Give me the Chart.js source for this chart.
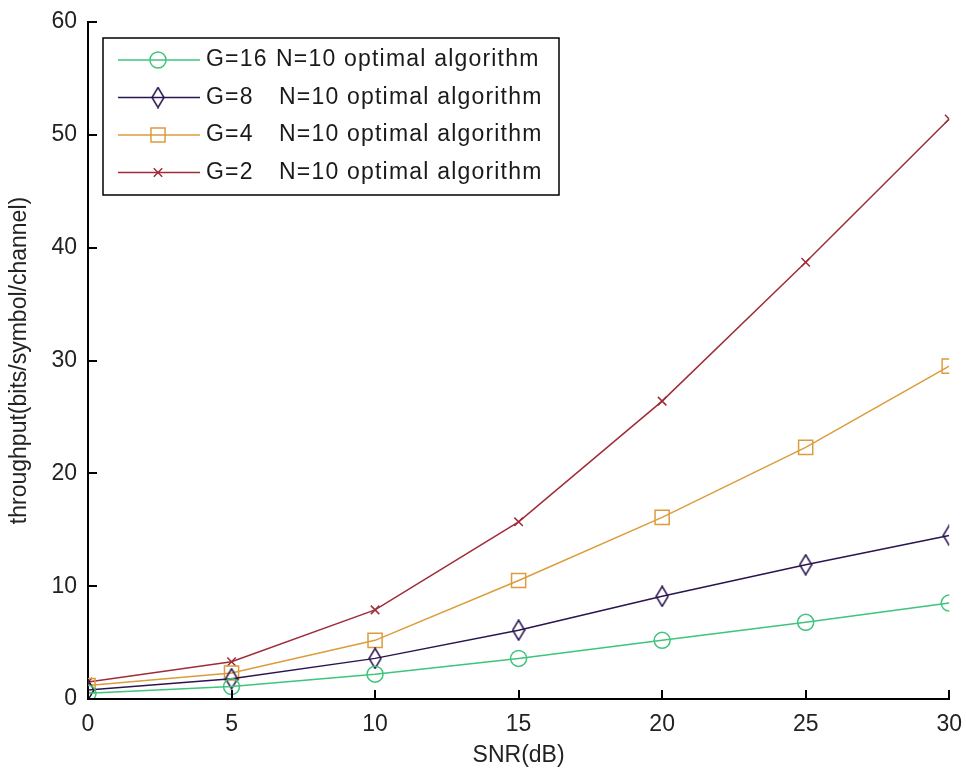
<!DOCTYPE html>
<html>
<head>
<meta charset="utf-8">
<script src="https://cdn.jsdelivr.net/npm/chart.js@4.4.1/dist/chart.umd.min.js"></script>
<style>
  html, body { margin: 0; padding: 0; background: #fff; }
  canvas { display: block; }
</style>
</head>
<body>
<canvas id="grafico" width="966" height="776"></canvas>
<script>
// data
var snr = [0, 5, 10, 15, 20, 25, 30];
var g16 = [0.5, 1.1, 2.2, 3.6, 5.2, 6.8, 8.5];
var g8  = [0.8, 1.8, 3.6, 6.1, 9.1, 11.9, 14.5];
var g4  = [1.2, 2.3, 5.2, 10.5, 16.1, 22.3, 29.5];
var g2  = [1.5, 3.3, 7.9, 15.7, 26.4, 38.7, 51.4];
var xTicks = [0, 5, 10, 15, 20, 25, 30];
var yTicks = [0, 10, 20, 30, 40, 50, 60];
var legendG = ['G=16', 'G=8', 'G=4', 'G=2'];
var legendN = 'N=10 optimal algorithm';

var FONT = '"Liberation Sans", Arial, sans-serif';

function pts(arr) {
  return arr.map(function (v, i) { return { x: snr[i], y: v }; });
}

// tall narrow diamond like matlab's 'd' marker
function diamond(color) {
  var c = document.createElement('canvas');
  c.width = 14; c.height = 22;
  var k = c.getContext('2d');
  k.strokeStyle = color; k.lineWidth = 1.5;
  k.beginPath();
  k.moveTo(7, 1); k.lineTo(13, 11); k.lineTo(7, 21); k.lineTo(1, 11); k.closePath();
  k.stroke();
  return c;
}

var cGreen = '#3fc47c', cPurple = '#2a1550', cOrange = '#dc9c3c', cRed = '#a02c3a';

var datasets = [
  { label: legendG[0], data: pts(g16), borderColor: cGreen, pointStyle: 'circle', pointRadius: 8 },
  { label: legendG[1], data: pts(g8), borderColor: cPurple, pointStyle: diamond(cPurple), pointRadius: 8 },
  { label: legendG[2], data: pts(g4), borderColor: cOrange, pointStyle: 'rect', pointRadius: 10 },
  { label: legendG[3], data: pts(g2), borderColor: cRed, pointStyle: 'crossRot', pointRadius: 6 }
];
datasets.forEach(function (d) {
  d.backgroundColor = 'rgba(0,0,0,0)';
  d.pointBorderColor = d.borderColor;
  d.pointBackgroundColor = 'rgba(0,0,0,0)';
  d.borderWidth = 1.5;
  d.pointBorderWidth = 1.5;
  d.tension = 0;
});

// inward tick marks + legend box
var matlabBits = {
  id: 'matlabBits',
  afterDraw: function (chart) {
    var ctx = chart.ctx, a = chart.chartArea;
    var xs = chart.scales.x, ys = chart.scales.y;
    ctx.save();
    ctx.strokeStyle = '#000';
    ctx.lineWidth = 2;
    xTicks.forEach(function (t) {
      var px = Math.round(xs.getPixelForValue(t));
      ctx.beginPath(); ctx.moveTo(px, a.bottom); ctx.lineTo(px, a.bottom - 9); ctx.stroke();
    });
    yTicks.forEach(function (t) {
      var py = Math.round(ys.getPixelForValue(t));
      ctx.beginPath(); ctx.moveTo(a.left, py); ctx.lineTo(a.left + 9, py); ctx.stroke();
    });

    // legend
    var bx = 103, by = 38, bw = 456, bh = 157;
    ctx.fillStyle = '#fff';
    ctx.fillRect(bx, by, bw, bh);
    ctx.strokeStyle = '#000';
    ctx.lineWidth = 1.5;
    ctx.strokeRect(bx, by, bw, bh);
    ctx.font = '23px ' + FONT;
    ctx.letterSpacing = '1.2px';
    ctx.textBaseline = 'middle';
    chart.data.datasets.forEach(function (d, i) {
      var yy = 60 + i * 37.5;
      ctx.strokeStyle = d.borderColor;
      ctx.lineWidth = 1.5;
      ctx.beginPath(); ctx.moveTo(118, yy); ctx.lineTo(200, yy); ctx.stroke();
      var opts = { pointStyle: d.pointStyle, radius: d.pointRadius, rotation: 0, borderWidth: 1.5 };
      ctx.fillStyle = 'rgba(0,0,0,0)';
      Chart.helpers.drawPoint(ctx, opts, 158, yy);
      ctx.fillStyle = '#1a1a1a';
      ctx.fillText(d.label, 206, yy);
      ctx.fillText(legendN, i === 0 ? 276 : 279, yy);
    });
    ctx.restore();
  }
};

var ctx = document.getElementById('grafico').getContext('2d');
var grafico = new Chart(ctx, {
  type: 'line',
  data: { datasets: datasets },
  plugins: [matlabBits],
  options: {
    responsive: false,
    animation: false,
    layout: { padding: { top: 22, right: 16, left: 0, bottom: 0 } },
    plugins: { legend: { display: false }, tooltip: { enabled: false } },
    scales: {
      x: {
        type: 'linear', min: 0, max: 30,
        afterBuildTicks: function (s) { s.ticks = xTicks.map(function (v) { return { value: v }; }); },
        afterFit: function (s) { s.height = 77; },
        grid: { display: false },
        border: { display: true, color: '#000', width: 2 },
        ticks: { color: '#222', padding: 4, font: { family: FONT, size: 23 } },
        title: { display: true, text: 'SNR(dB)', color: '#222', padding: { top: 0, bottom: 7 }, font: { family: FONT, size: 23 } }
      },
      y: {
        type: 'linear', min: 0, max: 60,
        afterBuildTicks: function (s) { s.ticks = yTicks.map(function (v) { return { value: v }; }); },
        afterFit: function (s) { s.width = 88; },
        grid: { display: false },
        border: { display: true, color: '#000', width: 2 },
        ticks: { color: '#222', padding: 3, font: { family: FONT, size: 23 } },
        title: { display: true, text: 'throughput(bits/symbol/channel)', color: '#222', padding: { top: 6 }, font: { family: FONT, size: 23 } }
      }
    }
  }
});
</script>
</body>
</html>
